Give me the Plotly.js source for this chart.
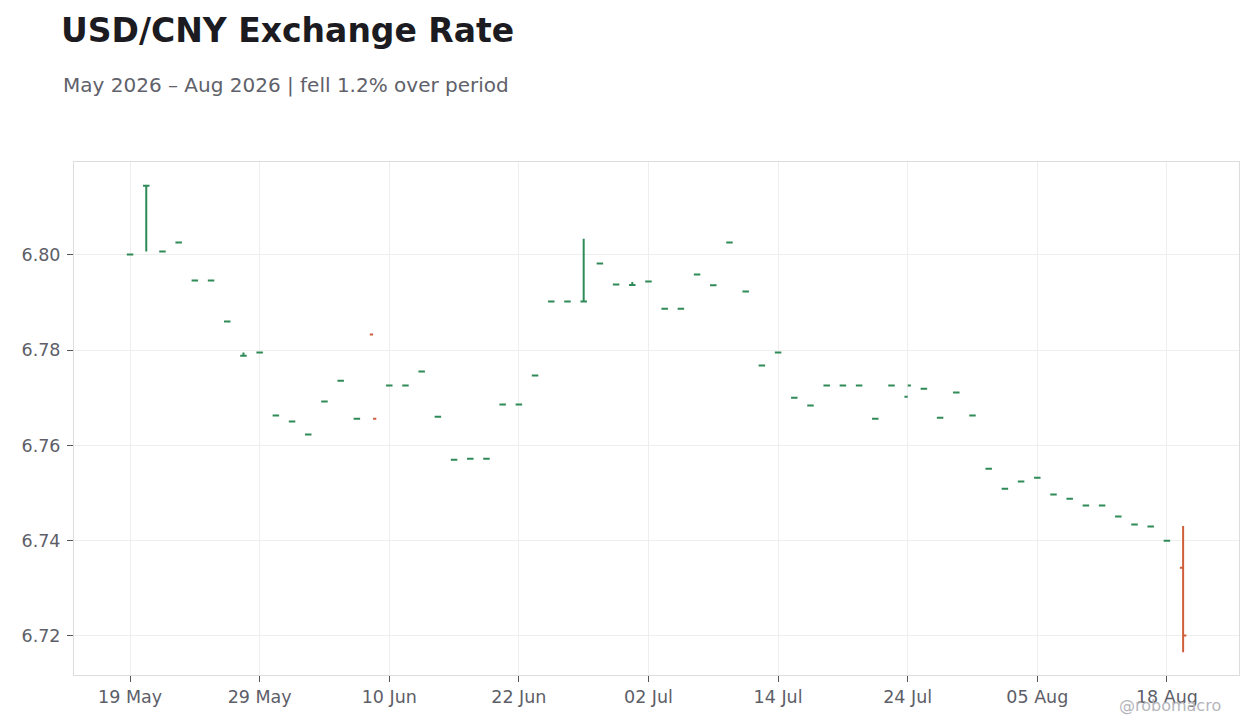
<!DOCTYPE html>
<html>
<head>
<meta charset="utf-8">
<script src="https://cdn.plot.ly/plotly-3.0.1.min.js"></script>
<style>
  html, body { margin: 0; padding: 0; background: #fff; }
  #chart { width: 1260px; height: 728px; }
</style>
</head>
<body>
<div id="chart"></div>
<script>
// ── USD/CNY daily OHLC ───────────────────────────────────────────────
const dates = [
    '2026-05-19','2026-05-20','2026-05-21','2026-05-22','2026-05-25','2026-05-26','2026-05-27','2026-05-28','2026-05-29',
    '2026-06-01','2026-06-02','2026-06-03','2026-06-04','2026-06-05','2026-06-08','2026-06-09','2026-06-10','2026-06-11','2026-06-12',
    '2026-06-15','2026-06-16','2026-06-17','2026-06-18','2026-06-19','2026-06-22','2026-06-23','2026-06-24','2026-06-25','2026-06-26',
    '2026-06-29','2026-06-30','2026-07-01','2026-07-02','2026-07-03','2026-07-06','2026-07-07','2026-07-08','2026-07-09','2026-07-10',
    '2026-07-13','2026-07-14','2026-07-15','2026-07-16','2026-07-17','2026-07-20','2026-07-21','2026-07-22','2026-07-23','2026-07-24',
    '2026-07-27','2026-07-28','2026-07-29','2026-07-30','2026-07-31','2026-08-03','2026-08-04','2026-08-05','2026-08-06','2026-08-07',
    '2026-08-10','2026-08-11','2026-08-12','2026-08-13','2026-08-14','2026-08-18','2026-08-19'
];

const open = [
    6.8001, 6.8145, 6.8007, 6.8026, 6.7946, 6.7946, 6.7860, 6.7788, 6.7795,
    6.7663, 6.7650, 6.7623, 6.7692, 6.7736, 6.7656, 6.7833, 6.7726, 6.7726, 6.7755,
    6.7660, 6.7570, 6.7572, 6.7572, 6.7686, 6.7686, 6.7747, 6.7902, 6.7902, 6.7902,
    6.7982, 6.7938, 6.7937, 6.7944, 6.7887, 6.7887, 6.7959, 6.7936, 6.8026, 6.7923,
    6.7768, 6.7795, 6.7700, 6.7684, 6.7726, 6.7726, 6.7726, 6.7656, 6.7726, 6.7702,
    6.7719, 6.7658, 6.7711, 6.7663, 6.7551, 6.7509, 6.7524, 6.7532, 6.7497, 6.7488,
    6.7474, 6.7474, 6.7451, 6.7434, 6.7430, 6.7400, 6.7343
];
const high = [
    6.8001, 6.8145, 6.8007, 6.8026, 6.7946, 6.7946, 6.7860, 6.7795, 6.7795,
    6.7663, 6.7650, 6.7623, 6.7692, 6.7736, 6.7656, 6.7656, 6.7726, 6.7726, 6.7755,
    6.7660, 6.7570, 6.7572, 6.7572, 6.7686, 6.7686, 6.7747, 6.7902, 6.7902, 6.8034,
    6.7982, 6.7938, 6.7943, 6.7944, 6.7887, 6.7887, 6.7959, 6.7936, 6.8026, 6.7923,
    6.7768, 6.7795, 6.7700, 6.7684, 6.7726, 6.7726, 6.7726, 6.7656, 6.7726, 6.7726,
    6.7719, 6.7658, 6.7711, 6.7663, 6.7551, 6.7509, 6.7524, 6.7532, 6.7497, 6.7488,
    6.7474, 6.7474, 6.7451, 6.7434, 6.7430, 6.7400, 6.7431
];
const low = [
    6.8001, 6.8007, 6.8007, 6.8026, 6.7946, 6.7946, 6.7860, 6.7788, 6.7795,
    6.7663, 6.7650, 6.7623, 6.7692, 6.7736, 6.7656, 6.7656, 6.7726, 6.7726, 6.7755,
    6.7660, 6.7570, 6.7572, 6.7572, 6.7686, 6.7686, 6.7747, 6.7902, 6.7902, 6.7902,
    6.7982, 6.7938, 6.7937, 6.7944, 6.7887, 6.7887, 6.7959, 6.7936, 6.8026, 6.7923,
    6.7768, 6.7795, 6.7700, 6.7684, 6.7726, 6.7726, 6.7726, 6.7656, 6.7726, 6.7726,
    6.7719, 6.7658, 6.7711, 6.7663, 6.7551, 6.7509, 6.7524, 6.7532, 6.7497, 6.7488,
    6.7474, 6.7474, 6.7451, 6.7434, 6.7430, 6.7400, 6.7166
];
const close = [
    6.8001, 6.8145, 6.8007, 6.8026, 6.7946, 6.7946, 6.7860, 6.7788, 6.7795,
    6.7663, 6.7650, 6.7623, 6.7692, 6.7736, 6.7656, 6.7656, 6.7726, 6.7726, 6.7755,
    6.7660, 6.7570, 6.7572, 6.7572, 6.7686, 6.7686, 6.7747, 6.7902, 6.7902, 6.7902,
    6.7982, 6.7938, 6.7937, 6.7944, 6.7887, 6.7887, 6.7959, 6.7936, 6.8026, 6.7923,
    6.7768, 6.7795, 6.7700, 6.7684, 6.7726, 6.7726, 6.7726, 6.7656, 6.7726, 6.7726,
    6.7719, 6.7658, 6.7711, 6.7663, 6.7551, 6.7509, 6.7524, 6.7532, 6.7497, 6.7488,
    6.7474, 6.7474, 6.7451, 6.7434, 6.7430, 6.7400, 6.7201
];

const tickDates  = ['2026-05-19','2026-05-29','2026-06-10','2026-06-22','2026-07-02','2026-07-14','2026-07-24','2026-08-05','2026-08-18'];
const tickLabels = ['19 May','29 May','10 Jun','22 Jun','02 Jul','14 Jul','24 Jul','05 Aug','18 Aug'];
const yTicks     = [6.72, 6.74, 6.76, 6.78, 6.80];

const FONT  = 'DejaVu Sans, Verdana, sans-serif';
const MUTED = '#5d5e68';
const UP    = '#2e8b57';
const DOWN  = '#cf5f3c';

// flat days count as "up" (green); only close < open is red
function pick(idx) {
    return {
        x:     idx.map(i => dates[i]),
        open:  idx.map(i => open[i]),
        high:  idx.map(i => high[i]),
        low:   idx.map(i => low[i]),
        close: idx.map(i => close[i]),
    };
}
const all     = dates.map((_, i) => i);
const upIdx   = all.filter(i => close[i] >= open[i]);
const downIdx = all.filter(i => close[i] <  open[i]);

function ohlcTrace(idx, color) {
    return Object.assign({
        type: 'ohlc',
        tickwidth: 0.2,   // plotly shares the min x gap across ohlc traces on one axis
        increasing: { line: { color: color, width: 2 } },
        decreasing: { line: { color: color, width: 2 } },
        hoverinfo: 'x+y',
    }, pick(idx));
}

Plotly.newPlot('chart', [ohlcTrace(upIdx, UP), ohlcTrace(downIdx, DOWN)], {
    width: 1260,
    height: 728,
    paper_bgcolor: '#ffffff',
    plot_bgcolor: '#ffffff',
    font: { family: FONT, size: 17.5, color: MUTED },
    margin: { t: 162, r: 21, b: 53, l: 74 },
    showlegend: false,
    xaxis: {
        type: 'category',
        categoryorder: 'array',
        categoryarray: dates,
        range: [-3.46, 68.45],
        tickvals: tickDates,
        ticktext: tickLabels,
        ticks: 'outside', ticklen: 6, tickcolor: '#555',
        showgrid: true, gridcolor: '#eeeeee',
        showline: true, linecolor: '#dddddd', linewidth: 1, mirror: true,
        rangeslider: { visible: false },
        tickfont: { size: 17.5, color: MUTED },
    },
    yaxis: {
        range: [6.7118, 6.8195],
        tickvals: yTicks,
        tickformat: '.2f',
        ticks: 'outside', ticklen: 6, tickcolor: '#555',
        ticklabelstandoff: 3,
        showgrid: true, gridcolor: '#eeeeee',
        showline: true, linecolor: '#dddddd', linewidth: 1, mirror: true,
        zeroline: false,
        tickfont: { size: 17.5, color: MUTED },
    },
    annotations: [
        {
            text: '<b>USD/CNY Exchange Rate</b>',
            xref: 'paper', yref: 'paper', x: -0.0125, y: 1.257,
            xanchor: 'left', yanchor: 'middle', showarrow: false,
            font: { family: FONT, size: 33, color: '#1b1b21' },
        },
        {
            text: 'May 2026 – Aug 2026 | fell 1.2% over period',
            xref: 'paper', yref: 'paper', x: -0.0115, y: 1.150,
            xanchor: 'left', yanchor: 'middle', showarrow: false,
            font: { family: FONT, size: 20, color: '#60616a' },
        },
        {
            text: '@robomacro',
            xref: 'paper', yref: 'paper', x: 0.9865, y: -0.0585,
            xanchor: 'right', yanchor: 'middle', showarrow: false,
            font: { family: FONT, size: 16, color: '#b5b5bb' },
        },
    ],
}, { displayModeBar: false, staticPlot: true });
</script>
</body>
</html>
